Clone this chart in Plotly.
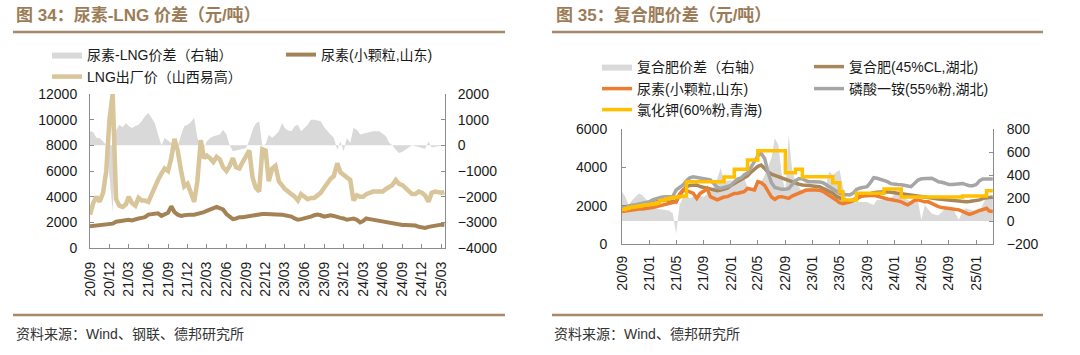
import plotly.graph_objects as go

# ---------------- shared date grid (1st and 16th of each month, 2020-09 .. 2025-03) ----------------
dates = []
for yy in range(2020, 2026):
    for mm in range(1, 13):
        if (yy, mm) < (2020, 9) or (yy, mm) > (2025, 3):
            continue
        dates.append(f"{yy}-{mm:02d}-01")
        dates.append(f"{yy}-{mm:02d}-16")

# ---------------- Chart 34: urea vs LNG ----------------
lng_price = [
    2600, 3500, 4000, 3600, 4300, 6000, 10000, 12000, 3800, 3300, 3200, 3400,
    4000, 3500, 3300, 3900, 3700, 3700, 3600, 4200, 4800, 5300, 5800, 6200,
    6000, 7000, 8500, 7600, 6000, 4800, 5000, 4200, 3600, 5200, 8400, 7000,
    7200, 7000, 6700, 7100, 6900, 6300, 6000, 6400, 7000, 6300, 6200, 6700,
    7200, 7600, 5500, 4700, 4400, 7700, 7600, 5200, 6200, 6400, 5200, 4800,
    4600, 4400, 4200, 4000, 3700, 4200, 4000, 3800, 3900, 3900, 4100, 4300,
    4700, 5100, 5400, 5600, 6600, 5900, 5700, 5600, 5300, 3700, 4100, 4000,
    4000, 4200, 4300, 4400, 4400, 4400, 4400, 4600, 4800, 4900, 5300, 5000,
    4900, 4700, 4400, 4200, 4200, 4400, 4300, 4100, 3600, 4300, 4400, 4300,
    4300, 4350,
]
urea_sd_left = [
    1700, 1720, 1750, 1780, 1800, 1820, 1850, 1900, 2050, 2080, 2100, 2150,
    2200, 2150, 2250, 2300, 2350, 2400, 2600, 2650, 2700, 2700, 2500, 2650,
    2750, 3250, 2800, 2600, 2500, 2550, 2600, 2600, 2600, 2650, 2700, 2800,
    2900, 3000, 3100, 3200, 3100, 3000, 2650, 2400, 2250, 2300, 2400, 2400,
    2450, 2500, 2500, 2600, 2600, 2650, 2650, 2650, 2650, 2650, 2650, 2600,
    2550, 2500, 2450, 2300, 2200, 2250, 2300, 2400, 2450, 2550, 2600, 2550,
    2450, 2500, 2550, 2500, 2400, 2350, 2300, 2200, 2250, 2300, 2200, 2000,
    2100, 2300, 2250, 2200, 2150, 2100, 2050, 2000, 2000, 1950, 1900, 1850,
    1800, 1800, 1800, 1780, 1750, 1650, 1600, 1560, 1650, 1700, 1750, 1800,
    1820, 1800,
]
urea_lng_spread = [
    550, 520, 300, 290, 150, 0, -1200, -2600, 600, 800, 700, 870,
    750, 680, 750, 800, 950, 1130, 1260, 1070, 870, 420, 0, 290,
    200, 90, -50, -30, 400, 750, 800, 900, 1070, 290, -40, -100,
    150, 290, 350, 380, 420, 610, 420, 0, -230, -200, -170, -150,
    -100, 200, 600, 850, 940, -30, 50, 400, 300, 400, 550, 870,
    680, 580, 550, 740, 800, 550, 700, 800, 1000, 1000, 970, 940,
    700, 550, 420, 300, -170, 150, -230, 290, 90, 680, 610, 420,
    450, 480, 520, 550, 550, 550, 450, 350, 100, 0, -170, -300,
    -250, -170, -80, 0, -40, -80, -100, -130, 150, -80, -60, -40,
    -20, 0,
]
left_tick_vals = ["2020-09-01", "2020-12-01", "2021-03-01", "2021-06-01", "2021-09-01",
                  "2021-12-01", "2022-03-01", "2022-06-01", "2022-09-01", "2022-12-01",
                  "2023-03-01", "2023-06-01", "2023-09-01", "2023-12-01", "2024-03-01",
                  "2024-06-01", "2024-09-01", "2024-12-01", "2025-03-01"]
left_tick_text = ["20/09", "20/12", "21/03", "21/06", "21/09", "21/12", "22/03", "22/06",
                  "22/09", "22/12", "23/03", "23/06", "23/09", "23/12", "24/03", "24/06",
                  "24/09", "24/12", "25/03"]

# ---------------- Chart 35: compound fertilizer ----------------
compound_hb = [
    1900, 1920, 1940, 1960, 1980, 2000, 2030, 2050, 2080, 2120, 2200, 2260,
    2300, 2280, 2250, 2220, 2200, 2550, 2800, 3000, 3050, 3080, 3080, 3000,
    2950, 2900, 2850, 2800, 2780, 2820, 2880, 2920, 3050, 3150, 3250, 3350,
    3450, 3550, 3750, 3900, 4050, 4120, 3900, 3750, 3650, 3580, 3500, 3430,
    3380, 3320, 3250, 3180, 3120, 3080, 3080, 3050, 3030, 3000, 2990, 2900,
    2820, 2750, 2650, 2500, 2400, 2320, 2250, 2200, 2250, 2380, 2470, 2540,
    2600, 2640, 2680, 2700, 2720, 2730, 2720, 2700, 2670, 2640, 2620, 2600,
    2580, 2560, 2530, 2500, 2460, 2420, 2400, 2380, 2370, 2350, 2330, 2300,
    2270, 2250, 2240, 2220, 2210, 2200, 2220, 2250, 2280, 2300, 2380, 2420,
    2450, 2450,
]
urea_sd_right = [
    1700, 1730, 1760, 1780, 1800, 1820, 1830, 1850, 1860, 1900, 1950, 2000,
    2050, 2100, 2150, 2180, 2210, 2600, 2820, 2780, 2730, 2650, 2380, 2640,
    2750, 2900, 2470, 2400, 2300, 2380, 2450, 2470, 2550, 2640, 2650, 2700,
    2730, 2900, 2850, 2820, 3250, 3200, 3050, 2730, 2450, 2330, 2450, 2470,
    2400, 2380, 2500, 2580, 2650, 2730, 2800, 2820, 2830, 2820, 2800, 2750,
    2650, 2550, 2400, 2300, 2150, 2100, 2150, 2200, 2300, 2400, 2470, 2500,
    2520, 2560, 2540, 2500, 2470, 2400, 2350, 2300, 2280, 2250, 2200, 2100,
    2040, 2150, 2280, 2300, 2250, 2200, 2200, 2100, 2000, 1950, 1900, 1880,
    1860, 1830, 1800, 1780, 1700, 1620, 1550, 1600, 1690, 1750, 1800, 1860,
    1720, 1700,
]
map_hb = [
    1900, 1950, 2000, 2020, 2050, 2080, 2100, 2150, 2200, 2300, 2380, 2420,
    2450, 2460, 2470, 2480, 2820, 2950, 3080, 3300, 3450, 3510, 3470, 3430,
    3400, 3380, 3340, 3150, 2950, 2900, 2950, 3000, 3050, 3250, 3400, 3450,
    3600, 3700, 4000, 4300, 4600, 4730, 4450, 3700, 3200, 2950, 2900, 2850,
    2850, 2900, 3100, 3300, 3400, 3400, 3300, 3250, 3250, 3250, 3230, 3200,
    3100, 2950, 2850, 2750, 2650, 2600, 2580, 2560, 2650, 2850, 2920, 2950,
    2990, 3200, 3460, 3430, 3380, 3340, 3250, 3150, 3110, 3100, 3090, 3080,
    3030, 2990, 3150, 3340, 3400, 3420, 3430, 3430, 3350, 3250, 3220, 3150,
    3110, 3110, 3140, 3160, 3160, 3100, 3040, 3040, 3100, 3300, 3390, 3390,
    3390, 3390,
]
kcl_qh = [
    1800, 1850, 1900, 1930, 1960, 2000, 2020, 2050, 2060, 2100, 2150, 2250,
    2300, 2350, 2400, 2430, 2450, 2480, 2500, 3250, 3250, 3250, 3250, 3250,
    3250, 3250, 3250, 3250, 3250, 3250, 3500, 3500, 3500, 3900, 3900, 3900,
    3900, 4380, 4380, 4380, 4870, 4870, 4870, 4870, 4870, 4870, 4870, 4870,
    3720, 3720, 3720, 3900, 3900, 3510, 3510, 3510, 3510, 3510, 3510, 3510,
    3510, 3510, 3200, 3200, 2730, 2300, 2300, 2300, 2300, 2650, 2650, 2650,
    2650, 2650, 2650, 2650, 2650, 2870, 2870, 2870, 2870, 2870, 2450, 2450,
    2450, 2450, 2450, 2450, 2450, 2450, 2450, 2450, 2450, 2450, 2450, 2450,
    2450, 2450, 2450, 2450, 2500, 2500, 2500, 2500, 2500, 2500, 2500, 2780,
    2780, 2780,
]
compound_spread = [
    255, 210, 140, 180, 210, 240, 225, 190, 150, 125, 110, 100,
    100, 95, 90, 65, -110, 140, 200, 225, 195, 210, 225, 220,
    210, 230, 255, 300, 370, 460, 340, 350, 355, 340, 325, 350,
    370, 300, 255, 300, 320, 340, 400, 480, 545, 720, 660, 400,
    255, 750, 450, 340, 300, 255, 284, 284, 284, 284, 270, 255,
    300, 430, 400, 420, 445, 300, 200, 150, 160, 165, 165, 165,
    165, 150, 140, 185, 185, 185, 185, 200, 230, 255, 230, 200,
    180, 165, 165, 165, 10, 140, 100, 65, 55, 50, 80, 110,
    120, 125, 60, 10, 90, 110, 100, 95, 85, 80, 150, 210,
    200, 195,
]
right_tick_vals = ["2020-09-01", "2021-01-01", "2021-05-01", "2021-09-01", "2022-01-01",
                   "2022-05-01", "2022-09-01", "2023-01-01", "2023-05-01", "2023-09-01",
                   "2024-01-01", "2024-05-01", "2024-09-01", "2025-01-01"]
right_tick_text = ["20/09", "21/01", "21/05", "21/09", "22/01", "22/05", "22/09", "23/01",
                   "23/05", "23/09", "24/01", "24/05", "24/09", "25/01"]

# ---------------- styling ----------------
W, H = 1080, 355
FONT = "Liberation Sans, Arial, Noto Sans CJK SC, sans-serif"
AXC = "#8c8c8c"
TXT = "#1a1a1a"
BROWN_T = "#9c7c58"
BROWN_L = "#a5896a"

def px_x(p):
    return p / W

def px_y(p):
    return 1 - p / H

fig = go.Figure()

# --- left chart traces
fig.add_trace(go.Scatter(x=dates, y=urea_lng_spread, name="尿素-LNG价差（右轴）",
                         mode="lines", line=dict(width=0, color="#d9d9d9"),
                         fill="tozeroy", fillcolor="#d9d9d9",
                         xaxis="x", yaxis="y", legend="legend"))
fig.add_trace(go.Scatter(x=dates, y=urea_sd_left, name="尿素(小颗粒,山东)",
                         mode="lines", line=dict(width=4, color="#a58255"),
                         xaxis="x", yaxis="y2", legend="legend2"))
fig.add_trace(go.Scatter(x=dates, y=lng_price, name="LNG出厂价（山西易高）",
                         mode="lines", line=dict(width=4.5, color="#d8c599"),
                         xaxis="x", yaxis="y2", legend="legend3"))

# --- right chart traces
fig.add_trace(go.Scatter(x=dates, y=compound_spread, name="复合肥价差（右轴）",
                         mode="lines", line=dict(width=0, color="#d9d9d9"),
                         fill="tozeroy", fillcolor="#d9d9d9",
                         xaxis="x2", yaxis="y3", legend="legend4"))
fig.add_trace(go.Scatter(x=dates, y=compound_hb, name="复合肥(45%CL,湖北)",
                         mode="lines", line=dict(width=3.5, color="#a8885a"),
                         xaxis="x2", yaxis="y4", legend="legend5"))
fig.add_trace(go.Scatter(x=dates, y=urea_sd_right, name="尿素(小颗粒,山东)",
                         mode="lines", line=dict(width=3.5, color="#ed7d31"),
                         xaxis="x2", yaxis="y4", legend="legend6"))
fig.add_trace(go.Scatter(x=dates, y=map_hb, name="磷酸一铵(55%粉,湖北)",
                         mode="lines", line=dict(width=3.5, color="#a6a6a6"),
                         xaxis="x2", yaxis="y4", legend="legend7"))
fig.add_trace(go.Scatter(x=dates, y=kcl_qh, name="氯化钾(60%粉,青海)",
                         mode="lines", line=dict(width=3.5, color="#ffc000", shape="hv"),
                         xaxis="x2", yaxis="y4", legend="legend8"))

axis_common = dict(showline=True, linecolor=AXC, linewidth=1, ticks="inside", ticklen=4,
                   tickcolor=AXC, showgrid=False, zeroline=False, automargin=False,
                   tickfont=dict(family=FONT, size=14, color=TXT))

xa_left = dict(axis_common, domain=[px_x(90), px_x(445)], anchor="y", type="date",
               range=["2020-09-01", "2025-03-19"], tickmode="array",
               tickvals=left_tick_vals, ticktext=left_tick_text, tickangle=-90,
               ticklabelstandoff=7)
xa_right = dict(axis_common, domain=[px_x(622), px_x(993)], anchor="y3", type="date",
                range=["2020-09-01", "2025-03-17"], tickmode="array",
                tickvals=right_tick_vals, ticktext=right_tick_text, tickangle=-90,
                ticklabelstandoff=5)

ya_left_spread = dict(axis_common, domain=[px_y(248), px_y(94)], anchor="x", side="right",
                      range=[-4000, 2000], dtick=1000, tick0=0, tickformat="d",
                      ticklabelstandoff=9)
ya_left_price = dict(axis_common, overlaying="y", anchor="x", side="left",
                     range=[0, 12000], dtick=2000, tick0=0, tickformat="d",
                     ticklabelstandoff=9)
ya_right_spread = dict(axis_common, domain=[px_y(244), px_y(129)], anchor="x2", side="right",
                       range=[-200, 800], dtick=200, tick0=0, tickformat="d",
                       ticklabelstandoff=10)
ya_right_price = dict(axis_common, overlaying="y3", anchor="x2", side="left",
                      range=[0, 6000], dtick=2000, tick0=0, tickformat="d",
                      ticklabelstandoff=11)

def leg(xp, yp):
    return dict(x=px_x(xp), y=px_y(yp), xanchor="left", yanchor="middle",
                orientation="h", bgcolor="rgba(0,0,0,0)", borderwidth=0,
                font=dict(family=FONT, size=14, color=TXT), itemwidth=30,
                itemclick=False, itemdoubleclick=False)

shapes = [
    dict(type="line", xref="paper", yref="paper", x0=px_x(13), x1=px_x(505),
         y0=px_y(32), y1=px_y(32), line=dict(color=BROWN_L, width=2.5)),
    dict(type="line", xref="paper", yref="paper", x0=px_x(552), x1=px_x(1043),
         y0=px_y(32), y1=px_y(32), line=dict(color=BROWN_L, width=2.5)),
    dict(type="line", xref="paper", yref="paper", x0=px_x(13), x1=px_x(505),
         y0=px_y(315), y1=px_y(315), line=dict(color=BROWN_L, width=2.5)),
    dict(type="line", xref="paper", yref="paper", x0=px_x(552), x1=px_x(1043),
         y0=px_y(315), y1=px_y(315), line=dict(color=BROWN_L, width=2.5)),
]

annotations = [
    dict(text="<b>图 34：尿素-LNG 价差（元/吨）</b>", xref="paper", yref="paper",
         x=px_x(14), y=px_y(15), xanchor="left", yanchor="middle", showarrow=False,
         font=dict(family=FONT, size=17, color=BROWN_T)),
    dict(text="<b>图 35：复合肥价差（元/吨）</b>", xref="paper", yref="paper",
         x=px_x(554), y=px_y(15), xanchor="left", yanchor="middle", showarrow=False,
         font=dict(family=FONT, size=17, color=BROWN_T)),
    dict(text="资料来源：Wind、钢联、德邦研究所", xref="paper", yref="paper",
         x=px_x(14), y=px_y(334), xanchor="left", yanchor="middle", showarrow=False,
         font=dict(family=FONT, size=14, color="#333333")),
    dict(text="资料来源：Wind、德邦研究所", xref="paper", yref="paper",
         x=px_x(552), y=px_y(334), xanchor="left", yanchor="middle", showarrow=False,
         font=dict(family=FONT, size=14, color="#333333")),
]

fig.update_layout(
    width=W, height=H, margin=dict(l=0, r=0, t=0, b=0, pad=0, autoexpand=False),
    paper_bgcolor="white", plot_bgcolor="white",
    font=dict(family=FONT, size=14, color=TXT),
    xaxis=xa_left, xaxis2=xa_right,
    yaxis=ya_left_spread, yaxis2=ya_left_price,
    yaxis3=ya_right_spread, yaxis4=ya_right_price,
    legend=leg(47, 55), legend2=leg(281, 55), legend3=leg(47, 77),
    legend4=leg(597, 67), legend5=leg(809, 67), legend6=leg(597, 89),
    legend7=leg(809, 89), legend8=leg(597, 110),
    shapes=shapes, annotations=annotations, showlegend=True,
)

# remove the browser's default 8px page margin so the figure sits at the window corner
fig.write_html("out.html", config={"displayModeBar": False},
               post_script="document.body.style.margin='0';")
